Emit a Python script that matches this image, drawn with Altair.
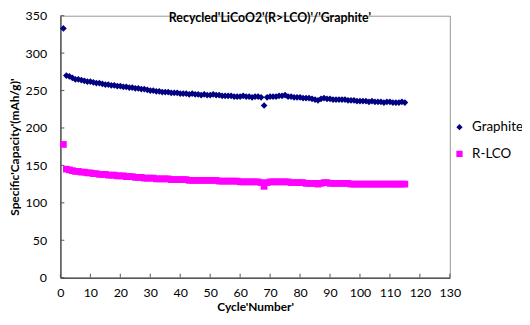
import altair as alt
import pandas as pd

cycles = list(range(1, 116))

graphite = [
    333,
    270, 269, 267, 265, 265, 264, 263, 262, 262,
    261, 260, 260, 259, 258, 258, 257, 257, 256, 256,
    255, 255, 254, 254, 253, 253, 252, 252, 251, 250,
    250, 249, 249, 248, 248, 248, 247, 247, 247, 246,
    246, 246, 245, 246, 245, 245, 244, 245, 244, 244,
    245, 244, 244, 243, 243, 243, 243, 242, 242, 242,
    243, 242, 242, 241, 242, 242, 241, 230, 241, 242,
    242, 242, 243, 243, 244, 242, 242, 241, 241, 241,
    240, 240, 240, 239, 238, 237, 239, 240, 239, 239,
    238, 238, 238, 238, 238, 237, 237, 237, 236, 236,
    236, 236, 235, 236, 235, 235, 235, 234, 235, 235,
    234, 234, 234, 235, 234,
]

rlco = [
    178,
    145, 144, 143, 142, 142, 141, 141, 140, 140,
    139, 139, 138, 138, 138, 137, 137, 137, 136, 136,
    136, 135, 135, 135, 134, 134, 134, 133, 133, 133,
    133, 132, 132, 132, 132, 132, 131, 131, 131, 131,
    131, 131, 130, 130, 130, 130, 130, 130, 130, 130,
    130, 130, 129, 129, 129, 129, 129, 129, 129, 128,
    128, 128, 128, 128, 128, 128, 127, 122, 127, 128,
    128, 128, 128, 128, 128, 128, 127, 127, 127, 127,
    127, 126, 126, 126, 126, 125, 126, 127, 127, 126,
    126, 126, 126, 126, 126, 126, 125, 125, 125, 125,
    125, 125, 125, 125, 125, 125, 125, 125, 125, 125,
    125, 125, 125, 125, 125,
]

series_names = ["Graphite", "R-LCO"]
series_colors = ["#000080", "#FF00FF"]
series_shapes = ["diamond", "square"]

x_ticks = list(range(0, 131, 10))
y_ticks = list(range(0, 351, 50))

df = pd.DataFrame({
    "cycle": cycles + cycles,
    "capacity": graphite + rlco,
    "series": ["Graphite"] * len(cycles) + ["R-LCO"] * len(cycles),
})

W, H = 394, 265
TOP = 6
FONT = "Lato"

xscale = alt.Scale(domain=[0, 130], nice=False, zero=False)
yscale = alt.Scale(domain=[0, 350], nice=False)

xaxis = alt.Axis(values=x_ticks, title="Cycle'Number'", tickSize=0,
                 labelPadding=9, titlePadding=3, labelOverlap=False,
                 labelFlush=False)
yaxis = alt.Axis(values=y_ticks, title="Specific'Capacity'(mAh/g)'",
                 tickSize=0, labelPadding=14, titlePadding=4,
                 labelOverlap=False, labelFlush=False)

points = alt.Chart(df).mark_point(filled=True, opacity=1, size=46).encode(
    x=alt.X("cycle:Q", scale=xscale, axis=xaxis),
    y=alt.Y("capacity:Q", scale=yscale, axis=yaxis),
    color=alt.Color("series:N",
                    scale=alt.Scale(domain=series_names, range=series_colors),
                    legend=alt.Legend(title=None, orient="none", legendX=397,
                                      legendY=106, symbolSize=40,
                                      labelFontSize=13.5, rowPadding=12,
                                      labelFont=FONT, labelColor="#000",
                                      padding=0, labelOffset=6, labelLimit=200)),
    shape=alt.Shape("series:N",
                    scale=alt.Scale(domain=series_names, range=series_shapes)),
    order=alt.Order("series:N", sort="ascending"),
)

xt = alt.Chart(pd.DataFrame({"t": x_ticks})).mark_rule(color="#555", strokeWidth=1).encode(
    x=alt.X("t:Q", scale=xscale, axis=xaxis), y=alt.value(H), y2=alt.value(H - 4)
)
yt = alt.Chart(pd.DataFrame({"t": y_ticks})).mark_rule(color="#555", strokeWidth=1).encode(
    y=alt.Y("t:Q", scale=yscale, axis=yaxis), x=alt.value(0), x2=alt.value(4)
)

chart = alt.layer(points, xt, yt).properties(
    width=W, height=H,
    autosize="none",
    padding={"left": 53, "top": TOP, "right": 73, "bottom": 38},
    title=alt.TitleParams("Recycled'LiCoO2'(R>LCO)'/'Graphite'", font=FONT,
                          fontSize=12.5, fontWeight="bold", color="#000",
                          anchor="middle", offset=-15, dx=15),
).configure_view(
    stroke="#999", strokeWidth=1
).configure_axis(
    grid=False, domainColor="#555", domainWidth=1.5,
    labelFont=FONT, labelFontSize=12.5, labelColor="#000",
    titleFont=FONT, titleFontSize=12, titleFontWeight="bold", titleColor="#000",
)

chart.save("out.html", embed_options={"renderer": "svg", "actions": False})
